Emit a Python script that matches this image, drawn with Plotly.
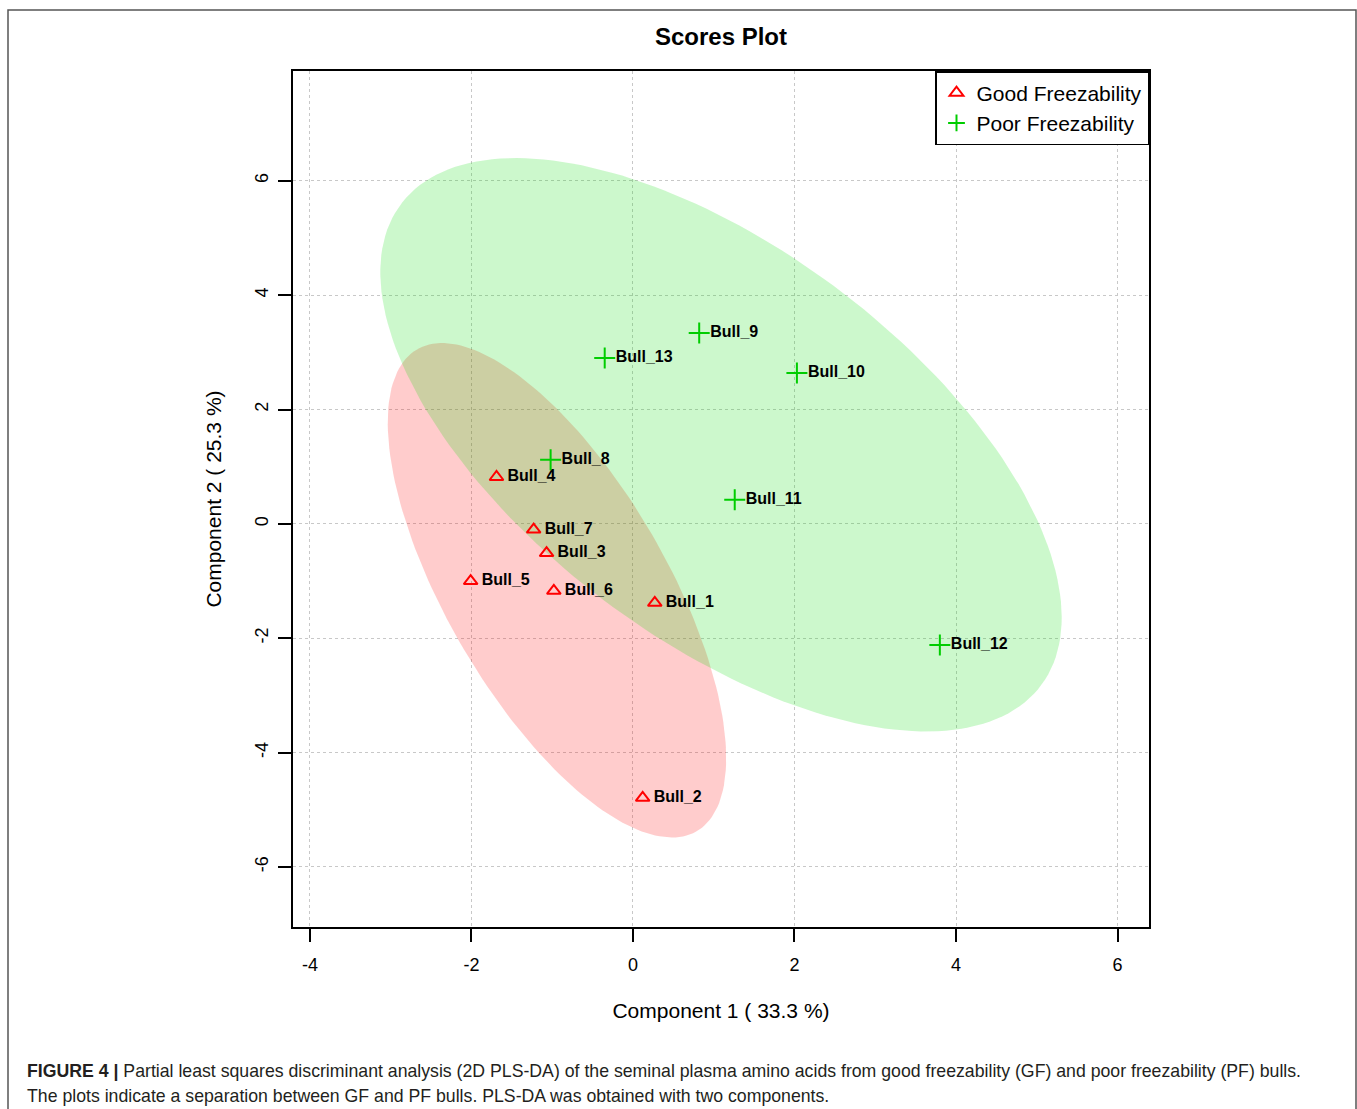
import numpy as np
import plotly.graph_objects as go

# PLS-DA scores (component 1, component 2) per bull
good_names = ["Bull_1", "Bull_2", "Bull_3", "Bull_4", "Bull_5", "Bull_6", "Bull_7"]
good_c1 = [0.27, 0.12, -1.07, -1.69, -2.01, -0.98, -1.23]
good_c2 = [-1.38, -4.79, -0.51, 0.82, -1.00, -1.17, -0.10]

poor_names = ["Bull_8", "Bull_9", "Bull_10", "Bull_11", "Bull_12", "Bull_13"]
poor_c1 = [-1.02, 0.82, 2.03, 1.26, 3.80, -0.35]
poor_c2 = [1.12, 3.34, 2.64, 0.42, -2.12, 2.90]

x_ticks = [-4, -2, 0, 2, 4, 6]
y_ticks = [-6, -4, -2, 0, 2, 4, 6]

RED = "rgb(255,0,0)"
GREEN = "rgb(0,205,0)"
FONT = "Liberation Sans, Arial, sans-serif"


def conf_ellipse(x, y, level_scale=np.sqrt(5.991464547), n=200):
    """95% confidence ellipse from the sample mean and covariance."""
    pts = np.vstack([x, y])
    mu = pts.mean(axis=1)
    cov = np.cov(pts)
    vals, vecs = np.linalg.eigh(cov)
    t = np.linspace(0, 2 * np.pi, n)
    circle = np.vstack([np.cos(t), np.sin(t)])
    ell = vecs @ np.diag(np.sqrt(vals)) @ circle * level_scale
    return mu[0] + ell[0], mu[1] + ell[1]


fig = go.Figure()

ex, ey = conf_ellipse(good_c1, good_c2)
fig.add_trace(go.Scatter(x=ex, y=ey, mode="lines", fill="toself",
                         fillcolor="rgba(255,0,0,0.2)", line=dict(width=0),
                         hoverinfo="skip", showlegend=False))
ex, ey = conf_ellipse(poor_c1, poor_c2)
fig.add_trace(go.Scatter(x=ex, y=ey, mode="lines", fill="toself",
                         fillcolor="rgba(0,220,0,0.2)", line=dict(width=0),
                         hoverinfo="skip", showlegend=False))

# point labels (an invisible marker keeps the text clear of the symbol)
label_font = dict(family=FONT, size=16, color="black", weight="bold")
for xs, ys, names in ((good_c1, good_c2, good_names), (poor_c1, poor_c2, poor_names)):
    fig.add_trace(go.Scatter(x=xs, y=ys, mode="markers+text", text=names,
                             textposition="middle right", textfont=label_font,
                             marker=dict(size=16, opacity=0),
                             showlegend=False, hoverinfo="skip"))

# markers
fig.add_trace(go.Scatter(x=good_c1, y=good_c2, mode="markers", name="Good Freezability",
                         marker=dict(symbol="triangle-up-open", size=12, color=RED,
                                     line=dict(width=2, color=RED))))
fig.add_trace(go.Scatter(x=poor_c1, y=poor_c2, mode="markers", name="Poor Freezability",
                         marker=dict(symbol="cross-thin", size=15, color=GREEN,
                                     line=dict(width=2, color=GREEN))))

axis_common = dict(
    showline=True, mirror=True, linecolor="black", linewidth=1.5,
    ticks="outside", ticklen=13, tickwidth=1.5, tickcolor="black",
    showgrid=True, gridcolor="#c8c8c8", griddash="dot", gridwidth=1,
    zeroline=False, tickfont=dict(family=FONT, size=18, color="black"),
)

fig.update_xaxes(
    range=[-4.21, 6.39], tickvals=x_ticks, ticktext=[str(v) for v in x_ticks],
    ticklabelstandoff=8,
    title=dict(text="Component 1 ( 33.3 %)", standoff=29,
               font=dict(family=FONT, size=21, color="black")),
    **axis_common,
)
fig.update_yaxes(
    range=[-7.05, 7.92], tickvals=y_ticks, ticktext=[str(v) for v in y_ticks],
    tickangle=-90, ticklabelstandoff=3,
    title=dict(text="Component 2 ( 25.3 %)", standoff=25,
               font=dict(family=FONT, size=21, color="black")),
    **axis_common,
)

L, R, T, B = 293, 208, 71, 182
W, H = 1357, 1109
pw, ph = W - L - R, H - T - B


def px_x(p):
    return (p - L) / pw


def px_y(p):
    return (H - B - p) / ph


caption1 = ("<b>FIGURE 4 |</b> Partial least squares discriminant analysis (2D PLS-DA) of the "
            "seminal plasma amino acids from good freezability (GF) and poor freezability (PF) bulls.")
caption2 = ("The plots indicate a separation between GF and PF bulls. "
            "PLS-DA was obtained with two components.")
caption_font = dict(family="Liberation Sans Narrow, Liberation Sans, sans-serif",
                    size=17.7, color="#231f20")

fig.update_layout(
    width=W, height=H,
    margin=dict(l=L, r=R, t=T, b=B, autoexpand=False),
    paper_bgcolor="white", plot_bgcolor="white",
    title=dict(text="<b>Scores Plot</b>", xref="paper", x=0.5, xanchor="center",
               y=1 - 37 / H, yanchor="middle",
               font=dict(family=FONT, size=24, color="black")),
    legend=dict(x=1, y=1, xanchor="right", yanchor="top",
                bgcolor="white", bordercolor="black", borderwidth=1.5,
                font=dict(family=FONT, size=21, color="black"),
                itemsizing="constant", tracegroupgap=0),
    shapes=[
        dict(type="rect", xref="paper", yref="paper",
             x0=px_x(8), x1=px_x(1356), y0=px_y(1120), y1=px_y(10),
             line=dict(color="#555555", width=1.5), fillcolor="rgba(0,0,0,0)",
             layer="below"),
    ],
    annotations=[
        dict(text=caption1, xref="paper", yref="paper", x=px_x(25), y=px_y(1071),
             xanchor="left", yanchor="middle", showarrow=False, font=caption_font),
        dict(text=caption2, xref="paper", yref="paper", x=px_x(25), y=px_y(1096),
             xanchor="left", yanchor="middle", showarrow=False, font=caption_font),
    ],
)

fig.write_html("out.html")
